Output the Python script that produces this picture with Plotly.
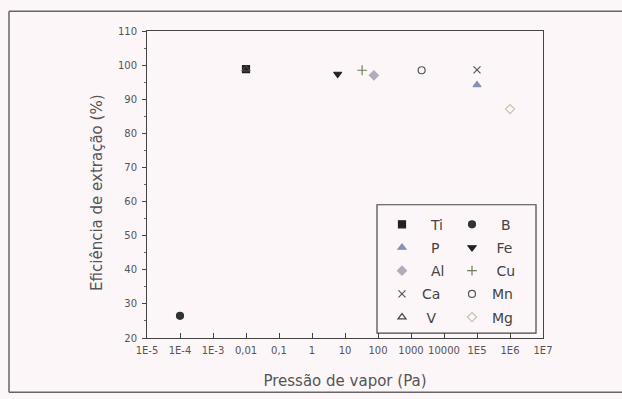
import plotly.graph_objects as go

elements = ["Ti", "B", "P", "Fe", "Al", "Cu", "Ca", "Mn", "V", "Mg"]
legend_labels = ["  Ti", "  B", "  P", " Fe", "  Al", " Cu", "Ca", "Mn", " V", "Mg"]
pressure = [0.01, 1e-4, 1e5, 6, 75, 33, 1e5, 2100, 0.01, 1e6]
efficiency = [98.8, 26.5, 94.2, 97.4, 97.0, 98.5, 98.6, 98.5, 98.8, 87.1]
symbols = ["square", "circle", "triangle-up", "triangle-down", "diamond",
           "cross-thin-open", "x-thin-open", "circle-open", "triangle-up-open", "diamond-open"]
colors = ["#222222", "#333333", "#8593b0", "#222222", "#b3aabb",
          "#6f7f5a", "#555555", "#555555", "#444444", "#c9c2ad"]
legend_ref = ["legend", "legend2", "legend", "legend2", "legend",
              "legend2", "legend", "legend2", "legend", "legend2"]

tick_vals = [1e-5, 1e-4, 1e-3, 1e-2, 1e-1, 1, 10, 100, 1000, 10000, 1e5, 1e6, 1e7]
tick_text = ["1E-5", "1E-4", "1E-3", "0,01", "0,1", "1", "10", "100", "1000", "10000", "1E5", "1E6", "1E7"]

BG = "#fcf6f9"
FONT = "DejaVu Sans"
W, H = 622, 399
L, T = 147, 31
R, B = W - 543, H - 342
pw, ph = W - L - R, H - T - B

def px(x):
    return (x - L) / pw

def py(y):
    return (H - B - y) / ph

fig = go.Figure()
for i, el in enumerate(elements):
    fig.add_trace(go.Scatter(
        x=[pressure[i]], y=[efficiency[i]], mode="markers", name=legend_labels[i],
        legend=legend_ref[i], legendgroup=el,
        marker=dict(symbol=symbols[i], size=7, color=colors[i],
                    line=dict(color=colors[i], width=1.2)),
    ))

leg_common = dict(bgcolor="rgba(0,0,0,0)", borderwidth=0, font=dict(family=FONT, size=14, color="#444"),
                  tracegroupgap=2, xanchor="left", yanchor="top", itemwidth=30)

fig.update_layout(
    width=W, height=H,
    margin=dict(l=L, r=R, t=T, b=B),
    paper_bgcolor=BG, plot_bgcolor=BG,
    font=dict(family=FONT, color="#555"),
    legend=dict(x=px(382), y=py(211), **leg_common),
    legend2=dict(x=px(452), y=py(211), **leg_common),
    xaxis=dict(type="log", range=[-5, 7], tickvals=tick_vals, ticktext=tick_text,
               showgrid=False, zeroline=False, showline=True, mirror=True,
               linecolor="#444", linewidth=1, ticks="inside", ticklen=5, tickcolor="#444",
               minor=dict(ticks="inside", ticklen=3, tickcolor="#666", showgrid=False),
               tickfont=dict(family=FONT, size=10, color="#555"), ticklabelstandoff=3,
               title=dict(text="Pressão de vapor (Pa)", font=dict(family=FONT, size=15, color="#555"),
                          standoff=20)),
    yaxis=dict(range=[20, 110], tickvals=list(range(20, 111, 10)),
               showgrid=False, zeroline=False, showline=True, mirror=True,
               linecolor="#444", linewidth=1, ticks="outside", ticklen=4, tickcolor="#444",
               minor=dict(ticks="outside", ticklen=2, dtick=5, tickcolor="#666", showgrid=False),
               tickfont=dict(family=FONT, size=10, color="#555"), ticklabelstandoff=3),
    annotations=[
        dict(text="Eficiência de extração (%)", xref="paper", yref="paper", x=px(97), y=py(195),
             xanchor="center", yanchor="middle", textangle=-90, showarrow=False,
             font=dict(family=FONT, size=15, color="#555")),
    ],
    shapes=[
        dict(type="rect", xref="paper", yref="paper", x0=px(377), x1=px(536), y0=py(337), y1=py(207),
             line=dict(color="#444", width=1.2), fillcolor="rgba(0,0,0,0)"),
        dict(type="line", xref="paper", yref="paper", x0=px(9), x1=px(900), y0=py(11), y1=py(11),
             line=dict(color="#666", width=1.5), layer="below"),
        dict(type="line", xref="paper", yref="paper", x0=px(9), x1=px(900), y0=py(397), y1=py(397),
             line=dict(color="#666", width=1.5), layer="below"),
        dict(type="line", xref="paper", yref="paper", x0=px(9), x1=px(9), y0=py(397), y1=py(11),
             line=dict(color="#666", width=1.5), layer="below"),
    ],
)

fig.write_html(
    "out.html",
    config={"displayModeBar": False, "staticPlot": True},
    post_script=(
        "var d=document.documentElement,b=document.body;"
        "[d,b].forEach(function(e){e.style.margin='0';e.style.padding='0';e.style.overflow='hidden';"
        "e.style.height='399px';e.style.width='622px';e.style.fontSize='0';e.style.lineHeight='0';});"
        "d.style.background='" + BG + "';"
        "document.querySelectorAll('.plotly-graph-div, .plotly-graph-div *').forEach(function(e){"
        "if(e.tagName==='DIV'){e.style.verticalAlign='top';}});"
        "document.querySelectorAll('.svg-container').forEach(function(e){e.style.display='block';});"
    ),
)
